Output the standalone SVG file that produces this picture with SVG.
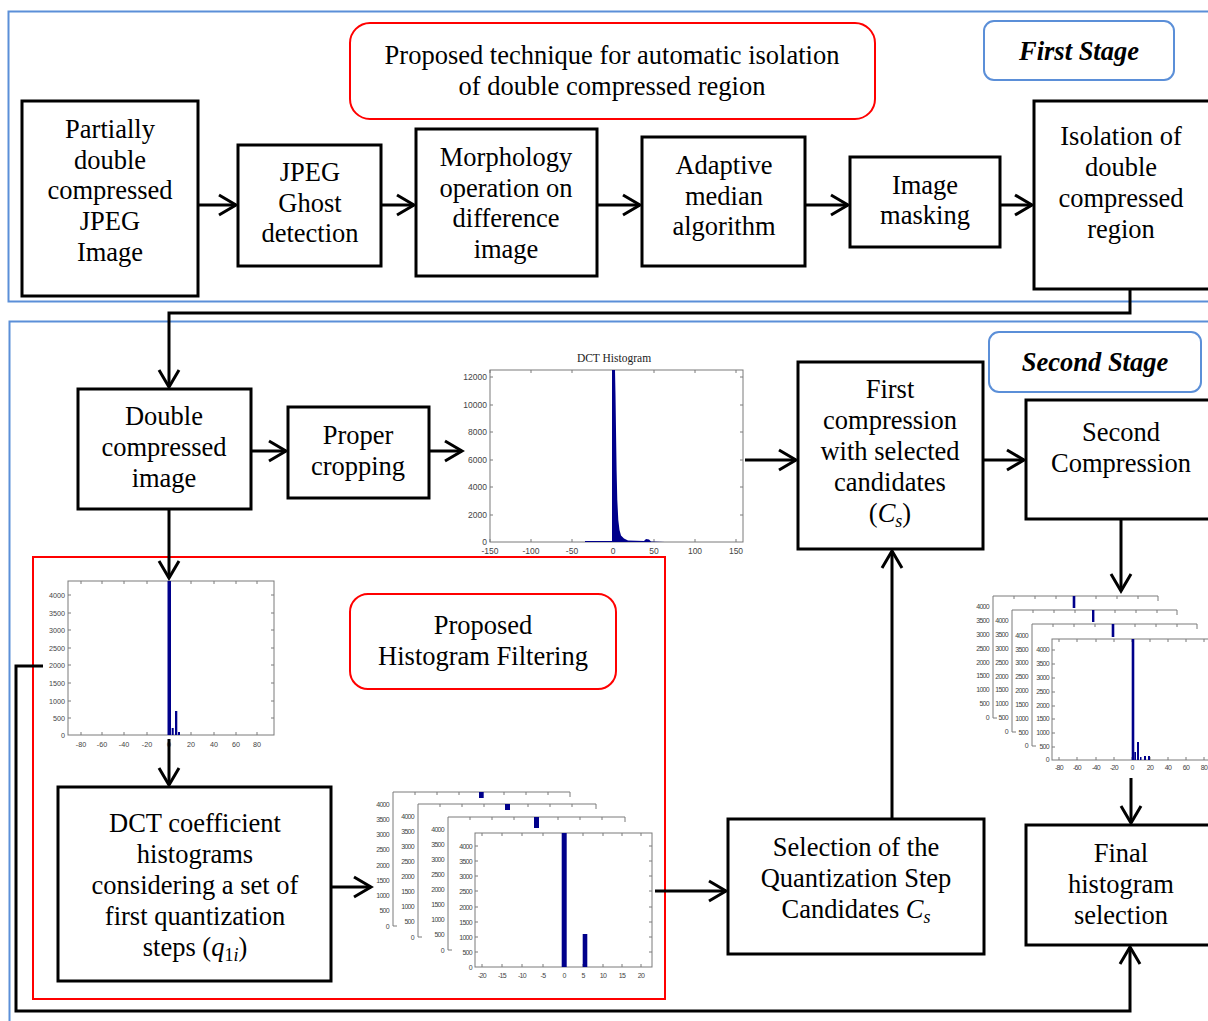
<svg xmlns="http://www.w3.org/2000/svg" width="1208" height="1021" viewBox="0 0 1208 1021">
<style>
.t{font-family:"Liberation Serif","Times New Roman",serif;font-size:26.5px;fill:#000;text-anchor:middle}
.st{font-family:"Liberation Serif","Times New Roman",serif;font-size:26.5px;font-weight:bold;font-style:italic;fill:#000;text-anchor:middle}
.node{fill:#fff;stroke:#000;stroke-width:3}
.blue{fill:none;stroke:#5B8FD8;stroke-width:2}
.bluebox{fill:#fff;stroke:#5B8FD8;stroke-width:2}
.red{fill:none;stroke:#FF0000;stroke-width:2}
.redbox{fill:#fff;stroke:#FF0000;stroke-width:2}
.con{fill:none;stroke:#000;stroke-width:3;marker-end:url(#arr)}
.ax{fill:none;stroke:#7a7a7a;stroke-width:1}
.axw{fill:#fff;stroke:#7a7a7a;stroke-width:1}
.tk{fill:none;stroke:#7a7a7a;stroke-width:1}
.ly{font-family:"Liberation Sans",Arial,sans-serif;font-size:8.5px;fill:#444;text-anchor:end}
.lx{font-family:"Liberation Sans",Arial,sans-serif;font-size:8.5px;fill:#444;text-anchor:middle}
.sm .ly,.sm .lx{font-size:7.2px}
.nw .ly,.nw .lx{font-size:7px;letter-spacing:-0.7px}
.bar{fill:#00008B}
.i{font-style:italic}
</style>
<defs>
<marker id="arr" markerUnits="userSpaceOnUse" markerWidth="20" markerHeight="24" refX="0" refY="0" orient="auto" overflow="visible">
<path d="M-17,-10 L0,0 L-17,10" fill="none" stroke="#000" stroke-width="3"/>
</marker>
</defs>

<!-- stage frames -->
<rect x="8.5" y="11.5" width="1215" height="290" class="blue"/>
<rect x="9.5" y="321.5" width="1215" height="720" class="blue"/>

<g id="proposed-technique">
<rect x="350" y="23" width="525" height="96" rx="20" class="redbox"/>
<text class="t" x="612" y="64">Proposed technique for automatic isolation</text>
<text class="t" x="612" y="95">of double compressed region</text>
</g>
<g id="first-stage">
<rect x="984" y="21" width="190" height="59" rx="10" class="bluebox"/>
<text class="st" x="1079" y="60">First Stage</text>
</g>

<g id="partially">
<rect x="22" y="101" width="176" height="195" class="node"/>
<text class="t" x="110" y="138">Partially</text>
<text class="t" x="110" y="169">double</text>
<text class="t" x="110" y="199">compressed</text>
<text class="t" x="110" y="230">JPEG</text>
<text class="t" x="110" y="261">Image</text>
</g>
<g id="ghost">
<rect x="238" y="145" width="143" height="121" class="node"/>
<text class="t" x="310" y="181">JPEG</text>
<text class="t" x="310" y="212">Ghost</text>
<text class="t" x="310" y="242">detection</text>
</g>
<g id="morphology">
<rect x="416" y="129" width="181" height="147" class="node"/>
<text class="t" x="506" y="166">Morphology</text>
<text class="t" x="506" y="197">operation on</text>
<text class="t" x="506" y="227">difference</text>
<text class="t" x="506" y="258">image</text>
</g>
<g id="adaptive">
<rect x="642" y="137" width="163" height="129" class="node"/>
<text class="t" x="724" y="174">Adaptive</text>
<text class="t" x="724" y="205">median</text>
<text class="t" x="724" y="235">algorithm</text>
</g>
<g id="masking">
<rect x="850" y="157" width="150" height="90" class="node"/>
<text class="t" x="925" y="194">Image</text>
<text class="t" x="925" y="224">masking</text>
</g>
<g id="isolation">
<rect x="1034" y="101" width="180" height="188" class="node"/>
<text class="t" x="1121" y="145">Isolation of</text>
<text class="t" x="1121" y="176">double</text>
<text class="t" x="1121" y="207">compressed</text>
<text class="t" x="1121" y="238">region</text>
</g>

<g id="second-stage">
<rect x="989" y="332" width="212" height="60" rx="10" class="bluebox"/>
<text class="st" x="1095" y="371">Second Stage</text>
</g>

<g id="double-compressed">
<rect x="78" y="389" width="173" height="120" class="node"/>
<text class="t" x="164" y="425">Double</text>
<text class="t" x="164" y="456">compressed</text>
<text class="t" x="164" y="487">image</text>
</g>
<g id="cropping">
<rect x="288" y="407" width="141" height="91" class="node"/>
<text class="t" x="358" y="444">Proper</text>
<text class="t" x="358" y="475">cropping</text>
</g>

<g id="dct-histogram">
<text x="614" y="362" font-family="Liberation Serif,serif" font-size="11.5" fill="#222" text-anchor="middle">DCT Histogram</text>
<rect x="490" y="370" width="253" height="172" class="axw"/>
<path class="tk" d="M490,542v-3M531,542v-3M572,542v-3M613,542v-3M654,542v-3M695,542v-3M736,542v-3M490,370v3M531,370v3M572,370v3M613,370v3M654,370v3M695,370v3M736,370v3M490,377h3M490,405h3M490,432h3M490,460h3M490,487h3M490,515h3M743,377h-3M743,405h-3M743,432h-3M743,460h-3M743,487h-3M743,515h-3"/>
<text class="ly" x="487" y="380">12000</text>
<text class="ly" x="487" y="408">10000</text>
<text class="ly" x="487" y="435">8000</text>
<text class="ly" x="487" y="463">6000</text>
<text class="ly" x="487" y="490">4000</text>
<text class="ly" x="487" y="518">2000</text>
<text class="ly" x="487" y="545">0</text>
<text class="lx" x="490" y="554">-150</text>
<text class="lx" x="531" y="554">-100</text>
<text class="lx" x="572" y="554">-50</text>
<text class="lx" x="613" y="554">0</text>
<text class="lx" x="654" y="554">50</text>
<text class="lx" x="695" y="554">100</text>
<text class="lx" x="736" y="554">150</text>
<path class="bar" d="M612,542 L612,370 L615,370 L615.5,395 L616,430 L616.6,470 L617.3,500 L618.3,520 L619.5,530 L621,535.5 L624,538.5 L628,540.5 L644,541 L646,539 L649,539.5 L651,541.5 L665,542 Z"/>
<rect x="585" y="541" width="27" height="1" class="bar"/>
</g>

<g id="first-compression">
<rect x="798" y="362" width="185" height="187" class="node"/>
<text class="t" x="890" y="398">First</text>
<text class="t" x="890" y="429">compression</text>
<text class="t" x="890" y="460">with selected</text>
<text class="t" x="890" y="491">candidates</text>
<text class="t" x="890" y="522">(<tspan class="i">C</tspan><tspan class="i" font-size="18" dy="5">s</tspan><tspan dy="-5">)</tspan></text>
</g>
<g id="second-compression">
<rect x="1026" y="400" width="190" height="119" class="node"/>
<text class="t" x="1121" y="441">Second</text>
<text class="t" x="1121" y="472">Compression</text>
</g>

<g id="histogram-filtering-frame">
<rect x="33" y="557" width="632" height="442" class="red"/>
</g>
<g id="histogram-filtering">
<rect x="350" y="594" width="266" height="95" rx="18" class="redbox"/>
<text class="t" x="483" y="634">Proposed</text>
<text class="t" x="483" y="665">Histogram Filtering</text>
</g>

<g id="small-histogram" class="sm">
<rect x="68" y="581" width="206" height="154" class="axw"/>
<path class="tk" d="M81,735v-3M102,735v-3M124,735v-3M147,735v-3M169,735v-3M191,735v-3M214,735v-3M236,735v-3M257,735v-3M81,581v3M102,581v3M124,581v3M147,581v3M169,581v3M191,581v3M214,581v3M236,581v3M257,581v3M68,595h3M68,613h3M68,630h3M68,648h3M68,665h3M68,683h3M68,701h3M68,718h3M274,595h-3M274,613h-3M274,630h-3M274,648h-3M274,665h-3M274,683h-3M274,701h-3M274,718h-3"/>
<text class="ly" x="65" y="598">4000</text>
<text class="ly" x="65" y="616">3500</text>
<text class="ly" x="65" y="633">3000</text>
<text class="ly" x="65" y="651">2500</text>
<text class="ly" x="65" y="668">2000</text>
<text class="ly" x="65" y="686">1500</text>
<text class="ly" x="65" y="704">1000</text>
<text class="ly" x="65" y="721">500</text>
<text class="ly" x="65" y="738">0</text>
<text class="lx" x="81" y="747">-80</text>
<text class="lx" x="102" y="747">-60</text>
<text class="lx" x="124" y="747">-40</text>
<text class="lx" x="147" y="747">-20</text>
<text class="lx" x="169" y="747">0</text>
<text class="lx" x="191" y="747">20</text>
<text class="lx" x="214" y="747">40</text>
<text class="lx" x="236" y="747">60</text>
<text class="lx" x="257" y="747">80</text>
<rect class="bar" x="167.5" y="581" width="3.5" height="154"/>
<rect class="bar" x="171.7" y="728" width="2" height="7"/>
<rect class="bar" x="175" y="711" width="2.3" height="24"/>
<rect class="bar" x="178" y="732" width="2" height="3"/>
</g>

<g id="dct-coefficient">
<rect x="58" y="787" width="273" height="194" class="node"/>
<text class="t" x="195" y="832">DCT coefficient</text>
<text class="t" x="195" y="863">histograms</text>
<text class="t" x="195" y="894">considering a set of</text>
<text class="t" x="195" y="925">first quantization</text>
<text class="t" x="195" y="956">steps (<tspan class="i">q</tspan><tspan font-size="18" dy="5">1<tspan class="i">i</tspan></tspan><tspan dy="-5">)</tspan></text>
</g>

<g id="candidate-histograms" class="nw">
<path class="ax" d="M393,926 V792 H570 V797 M393,926 h4 M415,792v3M437,792v3M459,792v3M504,792v3M526,792v3M548,792v3"/>
<rect class="bar" x="479" y="792" width="4.7" height="6"/>
<g class="ly"><text x="389" y="807">4000</text><text x="389" y="822">3500</text><text x="389" y="837">3000</text><text x="389" y="852">2500</text><text x="389" y="868">2000</text><text x="389" y="883">1500</text><text x="389" y="898">1000</text><text x="389" y="913">500</text><text x="389" y="929">0</text></g>
<rect x="400" y="804" width="197" height="142" fill="#fff"/>
<path class="ax" d="M418,937 V804 H596 V809 M418,937 h4 M440,804v3M462,804v3M484,804v3M528,804v3M550,804v3M572,804v3"/>
<rect class="bar" x="505" y="804" width="5" height="6"/>
<g class="ly"><text x="414" y="819">4000</text><text x="414" y="834">3500</text><text x="414" y="849">3000</text><text x="414" y="864">2500</text><text x="414" y="879">2000</text><text x="414" y="894">1500</text><text x="414" y="909">1000</text><text x="414" y="924">500</text><text x="414" y="940">0</text></g>
<rect x="428" y="817" width="198" height="142" fill="#fff"/>
<path class="ax" d="M448,950 V817 H625 V822 M448,950 h4 M470,817v3M492,817v3M514,817v3M558,817v3M580,817v3M602,817v3"/>
<rect class="bar" x="534" y="817" width="5" height="11"/>
<g class="ly"><text x="444" y="832">4000</text><text x="444" y="847">3500</text><text x="444" y="862">3000</text><text x="444" y="877">2500</text><text x="444" y="892">2000</text><text x="444" y="907">1500</text><text x="444" y="922">1000</text><text x="444" y="937">500</text><text x="444" y="953">0</text></g>
<rect x="456" y="831" width="198" height="152" fill="#fff"/>
<rect x="475" y="833" width="177" height="134" class="axw"/>
<path class="tk" d="M482,967v-3M502,967v-3M522,967v-3M543,967v-3M564,967v-3M583,967v-3M603,967v-3M622,967v-3M641,967v-3M482,833v3M502,833v3M522,833v3M543,833v3M564,833v3M583,833v3M603,833v3M622,833v3M641,833v3M475,846h3M475,861h3M475,876h3M475,891h3M475,907h3M475,922h3M475,937h3M475,952h3M652,846h-3M652,861h-3M652,876h-3M652,891h-3M652,907h-3M652,922h-3M652,937h-3M652,952h-3"/>
<g class="ly"><text x="472" y="849">4000</text><text x="472" y="864">3500</text><text x="472" y="879">3000</text><text x="472" y="894">2500</text><text x="472" y="910">2000</text><text x="472" y="925">1500</text><text x="472" y="940">1000</text><text x="472" y="955">500</text><text x="472" y="970">0</text></g>
<g class="lx"><text x="482" y="978">-20</text><text x="502" y="978">-15</text><text x="522" y="978">-10</text><text x="543" y="978">-5</text><text x="564" y="978">0</text><text x="583" y="978">5</text><text x="603" y="978">10</text><text x="622" y="978">15</text><text x="641" y="978">20</text></g>
<rect class="bar" x="561.7" y="833" width="5" height="134"/>
<rect class="bar" x="582.7" y="934" width="4.6" height="33"/>
</g>

<g id="selection">
<rect x="728" y="819" width="256" height="135" class="node"/>
<text class="t" x="856" y="856">Selection of the</text>
<text class="t" x="856" y="887">Quantization Step</text>
<text class="t" x="856" y="918">Candidates <tspan class="i">C</tspan><tspan class="i" font-size="18" dy="5">s</tspan></text>
</g>

<g id="compressed-histograms" class="nw">
<path class="ax" d="M993,718 V596 H1158 V601 M993,718 h4 M1014,596v3M1035,596v3M1056,596v3M1096,596v3M1117,596v3M1138,596v3"/>
<rect class="bar" x="1072.7" y="596" width="2.6" height="12"/>
<g class="ly"><text x="989" y="609">4000</text><text x="989" y="623">3500</text><text x="989" y="637">3000</text><text x="989" y="651">2500</text><text x="989" y="665">2000</text><text x="989" y="678">1500</text><text x="989" y="692">1000</text><text x="989" y="706">500</text><text x="989" y="720">0</text></g>
<rect x="998" y="610" width="180" height="132" fill="#fff"/>
<path class="ax" d="M1012,732 V610 H1177 V615 M1012,732 h4 M1033,610v3M1054,610v3M1075,610v3M1115,610v3M1136,610v3M1157,610v3"/>
<rect class="bar" x="1092" y="610" width="2.4" height="12"/>
<g class="ly"><text x="1008" y="623">4000</text><text x="1008" y="637">3500</text><text x="1008" y="651">3000</text><text x="1008" y="665">2500</text><text x="1008" y="679">2000</text><text x="1008" y="692">1500</text><text x="1008" y="706">1000</text><text x="1008" y="720">500</text><text x="1008" y="734">0</text></g>
<rect x="1017" y="624" width="181" height="132" fill="#fff"/>
<path class="ax" d="M1032,746 V624 H1197 V629 M1032,746 h4 M1053,624v3M1074,624v3M1095,624v3M1135,624v3M1156,624v3M1177,624v3"/>
<rect class="bar" x="1111.7" y="624" width="2.6" height="13"/>
<g class="ly"><text x="1028" y="638">4000</text><text x="1028" y="652">3500</text><text x="1028" y="665">3000</text><text x="1028" y="679">2500</text><text x="1028" y="693">2000</text><text x="1028" y="707">1500</text><text x="1028" y="721">1000</text><text x="1028" y="735">500</text><text x="1028" y="748">0</text></g>
<rect x="1037" y="638" width="178" height="136" fill="#fff"/>
<rect x="1052" y="639" width="170" height="121" class="axw"/>
<path class="tk" d="M1059,760v-3M1077,760v-3M1096,760v-3M1114,760v-3M1132,760v-3M1150,760v-3M1168,760v-3M1186,760v-3M1204,760v-3M1059,639v3M1077,639v3M1096,639v3M1114,639v3M1132,639v3M1150,639v3M1168,639v3M1186,639v3M1204,639v3M1052,650h3M1052,664h3M1052,678h3M1052,692h3M1052,706h3M1052,719h3M1052,733h3M1052,747h3"/>
<g class="ly"><text x="1049" y="652">4000</text><text x="1049" y="666">3500</text><text x="1049" y="680">3000</text><text x="1049" y="694">2500</text><text x="1049" y="708">2000</text><text x="1049" y="721">1500</text><text x="1049" y="735">1000</text><text x="1049" y="749">500</text><text x="1049" y="762">0</text></g>
<g class="lx"><text x="1059" y="770">-80</text><text x="1077" y="770">-60</text><text x="1096" y="770">-40</text><text x="1114" y="770">-20</text><text x="1132" y="770">0</text><text x="1150" y="770">20</text><text x="1168" y="770">40</text><text x="1186" y="770">60</text><text x="1204" y="770">80</text></g>
<rect class="bar" x="1131.7" y="639" width="2.6" height="121"/>
<rect class="bar" x="1134.3" y="752" width="1.7" height="8"/>
<rect class="bar" x="1137" y="742" width="2" height="18"/>
<rect class="bar" x="1140" y="757" width="1.5" height="3"/>
<rect class="bar" x="1144" y="756" width="2" height="4"/>
<rect class="bar" x="1148" y="756" width="2" height="4"/>
</g>

<g id="final">
<rect x="1026" y="825" width="190" height="120" class="node"/>
<text class="t" x="1121" y="862">Final</text>
<text class="t" x="1121" y="893">histogram</text>
<text class="t" x="1121" y="924">selection</text>
</g>

<g id="connectors">
<path class="con" d="M198,205 H236"/>
<path class="con" d="M381,205 H414"/>
<path class="con" d="M597,205 H640"/>
<path class="con" d="M805,205 H848"/>
<path class="con" d="M1000,205 H1032"/>
<path class="con" d="M1130,289 V313 H169 V387"/>
<path class="con" d="M251,451 H286"/>
<path class="con" d="M429,451 H462"/>
<path class="con" d="M745,460 H796"/>
<path class="con" d="M983,460 H1024"/>
<path class="con" d="M1121,519 V591"/>
<path class="con" d="M1131,778 V823"/>
<path class="con" d="M169,509 V578"/>
<path class="con" d="M169,739 V785"/>
<path class="con" d="M331,887 H371"/>
<path class="con" d="M655,891 H726"/>
<path class="con" d="M892,819 V551"/>
<path class="con" d="M43,666 H16 V1011 H1130 V947"/>
</g>
</svg>
